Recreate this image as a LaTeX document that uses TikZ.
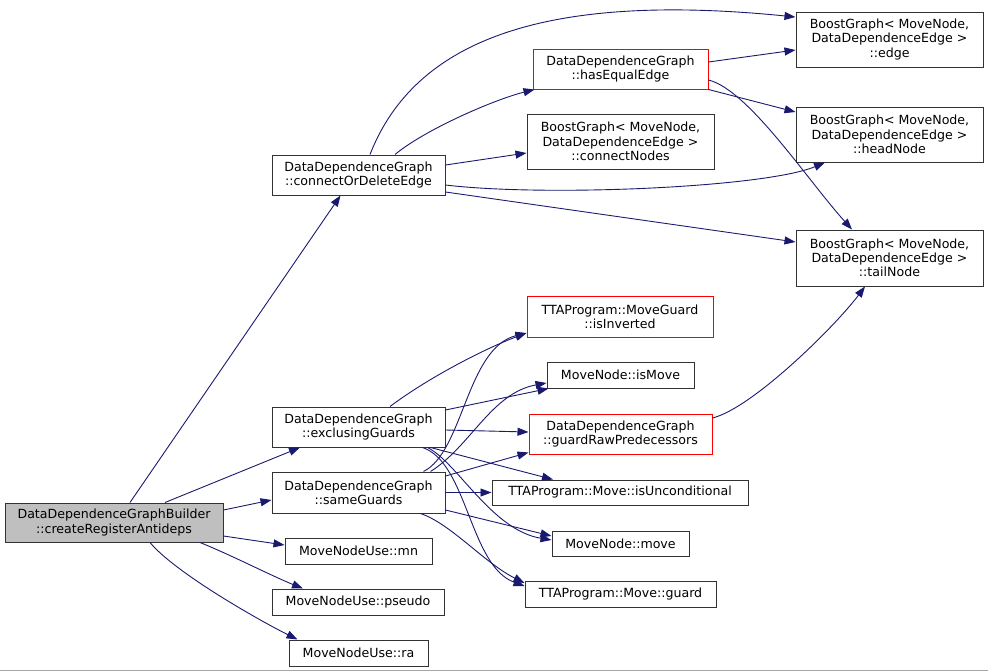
\documentclass[tikz,border=0pt]{standalone}
\usepackage{fontspec}
\setmainfont{DejaVu Sans}
\usetikzlibrary{arrows.meta}
\definecolor{edgeblue}{HTML}{191970}
\definecolor{boxgray}{HTML}{BFBFBF}
\begin{document}
\begin{tikzpicture}[x=1pt,y=-1pt,
    fn/.style={draw=black!80,line width=1pt,fill=white,inner sep=0pt,align=center,
      font=\fontsize{12.6}{14.2}\selectfont},
    fnred/.style={fn,draw=red},
    call/.style={draw=edgeblue,line width=0.9pt,-{Triangle[length=11pt,width=8pt]}}]
    \useasboundingbox (0,0) rectangle (988,672);
    \draw[black!35,line width=1pt] (0,670) -- (988,670);
    \node[fn,fill=boxgray,minimum width=218,minimum height=39] (builder) at (114,522.5) {DataDependenceGraphBuilder\\::createRegisterAntideps};
    \node[fn,minimum width=173,minimum height=40] (cod) at (358.5,175) {DataDependenceGraph\\::connectOrDeleteEdge};
    \node[fnred,minimum width=175,minimum height=40] (haseq) at (620.5,69) {DataDependenceGraph\\::hasEqualEdge};
    \node[fn,minimum width=187,minimum height=55] (connodes) at (620.5,141.5) {BoostGraph< MoveNode,\\DataDependenceEdge >\\::connectNodes};
    \node[fn,minimum width=187,minimum height=55] (edge) at (889.5,39.5) {BoostGraph< MoveNode,\\DataDependenceEdge >\\::edge};
    \node[fn,minimum width=187,minimum height=55] (headnode) at (889.5,134.5) {BoostGraph< MoveNode,\\DataDependenceEdge >\\::headNode};
    \node[fn,minimum width=187,minimum height=56] (tailnode) at (889.5,258) {BoostGraph< MoveNode,\\DataDependenceEdge >\\::tailNode};
    \node[fnred,minimum width=186,minimum height=41] (isinv) at (620,316.5) {TTAProgram::MoveGuard\\::isInverted};
    \node[fn,minimum width=147,minimum height=26] (ismove) at (620.5,375) {MoveNode::isMove};
    \node[fnred,minimum width=183,minimum height=40] (guardraw) at (620.5,434) {DataDependenceGraph\\::guardRawPredecessors};
    \node[fn,minimum width=256,minimum height=25] (isuncond) at (620,492.5) {TTAProgram::Move::isUnconditional};
    \node[fn,minimum width=173,minimum height=40] (excl) at (358.5,427) {DataDependenceGraph\\::exclusingGuards};
    \node[fn,minimum width=173,minimum height=41] (same) at (358.5,492.5) {DataDependenceGraph\\::sameGuards};
    \node[fn,minimum width=137,minimum height=25] (move) at (620.5,543.5) {MoveNode::move};
    \node[fn,minimum width=191,minimum height=26] (guard) at (620.5,594) {TTAProgram::Move::guard};
    \node[fn,minimum width=147,minimum height=26] (mn) at (358.5,551) {MoveNodeUse::mn};
    \node[fn,minimum width=172,minimum height=26] (pseudo) at (358,602) {MoveNodeUse::pseudo};
    \node[fn,minimum width=139,minimum height=26] (ra) at (358.5,653) {MoveNodeUse::ra};

    \draw[call] ([xshift=16]builder.north) -- ([xshift=-18]cod.south);
    \draw[call] ([xshift=51]builder.north) -- ([xshift=-58.5]excl.south);
    \draw[call] ([yshift=12.5]builder.east) -- ([yshift=-7.5]same.west);
    \draw[call] ([yshift=-13.5]builder.east) -- ([yshift=6]mn.west);
    \draw[call] ([xshift=86]builder.south) .. controls +(30,12) and +(-30,-12) .. ([xshift=-55]pseudo.north);
    \draw[call] ([xshift=36]builder.south) .. controls +(25,30) and +(-40,-20) .. ([xshift=-61]ra.north);

    \draw[call] ([xshift=11.5]cod.north) .. controls +(45,-115) and +(-250,-25) .. ([yshift=22.5]edge.west);
    \draw[call] ([xshift=36.5]cod.north) .. controls +(30,-25) and +(-40,10) .. ([xshift=2]haseq.south west);
    \draw[call] ([yshift=10]cod.east) -- ([yshift=-11.5]connodes.west);
    \draw[call] ([yshift=-10]cod.east) .. controls +(100,12) and +(-60,25) .. ([xshift=-64.5]headnode.south);
    \draw[call] ([yshift=-17]cod.east) -- ([yshift=16]tailnode.west);
    \draw[call] ([yshift=7]haseq.east) -- ([yshift=-10.5]edge.west);
    \draw[call] (haseq.south east) -- ([yshift=22.5]headnode.west);
    \draw[call] ([yshift=-11]haseq.east) .. controls +(40,10) and +(-45,-50) .. ([xshift=-37.5]tailnode.north);

    \draw[call] ([xshift=31.5]excl.north) .. controls +(40,-30) and +(-40,15) .. ([yshift=-16.5]isinv.west);
    \draw[call] ([yshift=17]excl.east) -- ([xshift=2]ismove.south west);
    \draw[call] ([yshift=-3]excl.east) -- ([yshift=2]guardraw.west);
    \draw[call] ([xshift=-15]excl.south east) -- ([xshift=-67]isuncond.north);
    \draw[call] ([xshift=-18]excl.south east) .. controls +(30,15) and +(-60,-10) .. ([yshift=3.5]move.west);
    \draw[call] ([xshift=-23]excl.south east) .. controls +(45,15) and +(-55,-20) .. ([yshift=8]guard.west);

    \draw[call] ([xshift=-22]same.north east) .. controls +(40,-20) and +(-60,15) .. ([yshift=-16.5]isinv.west);
    \draw[call] ([xshift=-15]same.north east) .. controls +(40,-25) and +(-55,10) .. ([yshift=-8]ismove.west);
    \draw[call] ([yshift=16.5]same.east) -- ([yshift=2]guardraw.south west);
    \draw[call] (same.east) -- (isuncond.west);
    \draw[call] ([yshift=-17.5]same.east) -- ([yshift=7.5]move.west);
    \draw[call] ([xshift=-25]same.south east) .. controls +(30,10) and +(-40,-20) .. ([yshift=11]guard.west);

    \draw[call] ([yshift=16]guardraw.east) .. controls +(40,-10) and +(-30,40) .. ([xshift=-24.5]tailnode.south);
\end{tikzpicture}
\end{document}
